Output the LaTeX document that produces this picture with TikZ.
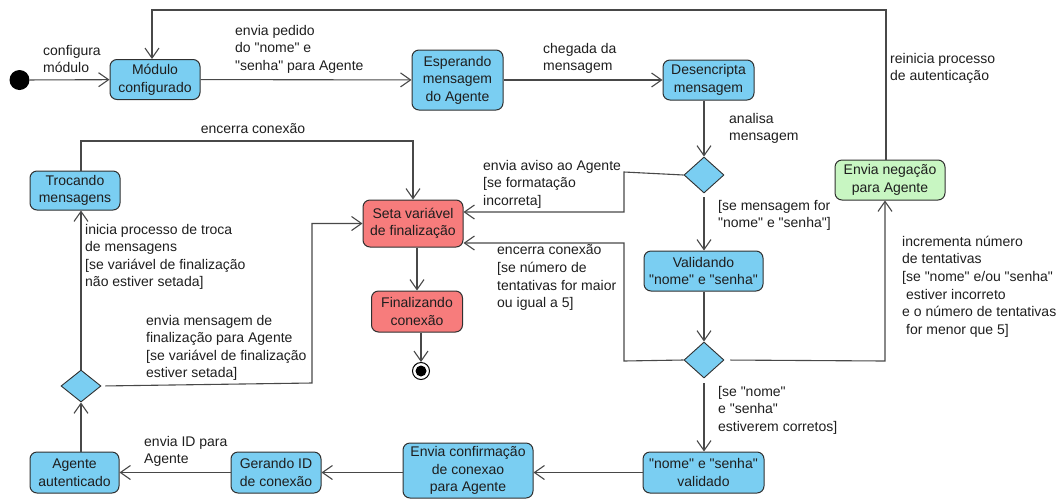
\documentclass[tikz,border=0pt]{standalone}
\usepackage{fontspec}
\setmainfont{Liberation Sans}[Ligatures=TeXOff]
\usetikzlibrary{arrows.meta,shapes.geometric}

\definecolor{stateblue}{RGB}{122,206,242}
\definecolor{statered}{RGB}{247,124,124}
\definecolor{stategreen}{RGB}{200,246,194}
\definecolor{edgegray}{RGB}{72,72,72}
\definecolor{boxline}{RGB}{48,48,48}
\definecolor{inktext}{RGB}{30,30,30}

\tikzset{
  txt/.style={font=\fontsize{14pt}{17.6pt}\selectfont, text=inktext},
  state/.style={txt, draw=boxline, line width=1pt, rounded corners=7pt,
    align=center, inner sep=0pt, fill=stateblue},
  stop/.style={state, fill=statered},
  deny/.style={state, fill=stategreen},
  choice/.style={diamond, draw=boxline, line width=0.9pt, fill=stateblue,
    inner sep=0pt, minimum width=40pt, minimum height=36pt},
  lbl/.style={txt, align=left, inner sep=0pt, anchor=north west},
  flow/.style={draw=edgegray, line width=1.1pt,
    -{Straight Barb[length=10pt,width=14pt,line width=1.1pt]}}
}

\begin{document}
\begin{tikzpicture}[x=1pt,y=-1pt]
\useasboundingbox (0,0) rectangle (1063,499);

% ---- states ----
\node[circle, fill=black, inner sep=0pt, minimum size=20pt] (ini) at (19.5,80) {};
\node[state, minimum width=90pt, minimum height=40pt] (mod) at (155,79.5) {Módulo\\configurado};
\node[state, minimum width=91pt, minimum height=60pt] (esp) at (457.5,80) {Esperando\\mensagem\\do Agente};
\node[state, minimum width=91pt, minimum height=40pt] (des) at (708.5,80) {Desencripta\\mensagem};
\node[choice] (d1) at (704,175) {};
\node[state, minimum width=119pt, minimum height=40pt] (val) at (703.5,271) {Validando\\"nome" e "senha"};
\node[choice] (d2) at (704,360) {};
\node[deny, minimum width=110pt, minimum height=40pt] (neg) at (890,180) {Envia negação\\para Agente};
\node[state, minimum width=121pt, minimum height=41pt] (okv) at (703.5,472.5) {"nome" e "senha"\\validado};
\node[state, minimum width=130pt, minimum height=55pt] (conf) at (468,470.5) {Envia confirmação\\de conexao\\para Agente};
\node[state, minimum width=90pt, minimum height=41pt] (ger) at (276,472.5) {Gerando ID\\de conexão};
\node[state, minimum width=89pt, minimum height=41pt] (aut) at (74.5,472.5) {Agente\\autenticado};
\node[choice, minimum height=32pt] (d3) at (81,386) {};
\node[state, minimum width=90pt, minimum height=39pt] (trc) at (75,190.5) {Trocando\\mensagens};
\node[stop, minimum width=100pt, minimum height=47pt] (seta) at (413,223.5) {Seta variável\\de finalização};
\node[stop, minimum width=91pt, minimum height=41pt] (fin) at (417,311.5) {Finalizando\\conexão};
\node[circle, draw=black, line width=1pt, fill=white, inner sep=0pt, minimum size=17pt] (fnl) at (421,371) {};
\fill[black] (fnl.center) circle (5.5pt);

% ---- bend points ----
\coordinate (k1) at (624,172);
\coordinate (k2) at (624,212);
\coordinate (k3) at (624,361);
\coordinate (k4) at (624,243);
\coordinate (k5) at (885,361);
\coordinate (k7) at (886,10);
\coordinate (k8) at (152,10);
\coordinate (k9) at (312,383);
\coordinate (k10) at (312,223.5);
\coordinate (k11) at (81,141);
\coordinate (k12) at (413,141);

% ---- transitions ----
\draw[flow] (ini) -- (mod);
\draw[flow] (mod) -- (esp);
\draw[flow] (esp.east |- des) -- (des);
\draw[flow] (d1 |- des.south) -- (d1.north);
\draw[flow] (d1.west) -- (k1) -- (k2) -- (seta.east |- k2);
\draw[flow, shorten <=4pt] (d1.south) -- (val.north -| d1);
\draw[flow] (val.south -| d2) -- (d2.north);
\draw[flow] (d2.west) -- (k3) -- (k4) -- (seta.east |- k4);
\draw[flow, shorten <=6pt] (d2.east) -- (k5) -- (k5 |- neg.south);
\draw[flow] (k7 |- neg.north) -- (k7) -- (k8) -- (k8 |- mod.north);
\draw[flow, shorten <=5pt] (d2.south) -- (okv.north -| d2);
\draw[flow] (okv.west) -- (okv.west -| conf.east);
\draw[flow] (conf.west |- ger) -- (ger.east);
\draw[flow] (ger.west) -- (aut.east);
\draw[flow] (d3 |- aut.north) -- (d3.south);
\draw[flow] (d3.north) -- (d3 |- trc.south);
\draw[flow, shorten <=4pt] (d3.east) -- (k9) -- (k10) -- (seta.west);
\draw[flow] (k11 |- trc.north) -- (k11) -- (k12) -- (seta.north);
\draw[flow] (fin.north |- seta.south) -- (fin.north);
\draw[flow] (fnl |- fin.south) -- (fnl.north);

% ---- transition labels ----
\node[lbl] (t0) at (43,44.7) {configura\\módulo};
\node[lbl] (t1) at (235,24.7) {envia pedido\\do "nome" e\\"senha" para Agente};
\node[lbl] (t2) at (543,42.7) {chegada da\\mensagem};
\node[lbl] (t3) at (890,52.7) {reinicia processo\\de autenticação};
\node[lbl] (t4) at (729,112.7) {analisa\\mensagem};
\node[txt, inner sep=0pt, anchor=north] (t5) at (253,123.7) {encerra conexão};
\node[lbl] (t6) at (483,159.7) {envia aviso ao Agente\\{[}se formatação\\incorreta]};
\node[lbl] (t7) at (718,199.7) {[se mensagem for\\"nome" e "senha"]};
\node[lbl] (t8) at (497,244.7) {encerra conexão\\{[}se número de\\tentativas for maior\\ou igual a 5]};
\node[lbl] (t9) at (902,235.7) {incrementa número\\de tentativas\\{[}se "nome" e/ou "senha"\\\hspace*{0.28em}estiver incorreto\\e o número de tentativas\\\hspace*{0.28em}for menor que 5]};
\node[lbl] (t10) at (85,223.7) {inicia processo de troca\\de mensagens\\{[}se variável de finalização\\não estiver setada]};
\node[lbl] (t11) at (146,314.7) {envia mensagem de\\finalização para Agente\\{[}se variável de finalização\\estiver setada]};
\node[lbl] (t12) at (718,385.7) {[se "nome"\\e "senha"\\estiverem corretos]};
\node[lbl] (t13) at (144,435.7) {envia ID para\\Agente};
\end{tikzpicture}
\end{document}
